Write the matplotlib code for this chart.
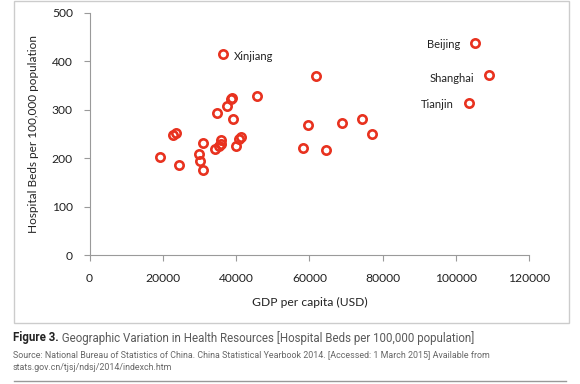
import matplotlib
matplotlib.use("Agg")
import matplotlib.pyplot as plt
from matplotlib.patches import Rectangle
from matplotlib.lines import Line2D

# GDP per capita (USD) and hospital beds per 100,000 population, by province
gdp = [105200, 109100, 103650, 36350,
       61700, 59700, 69000, 74300, 77000, 58200, 64450,
       45800, 39000, 38500, 37450, 34700, 39250,
       22900, 23600, 31050, 35800, 35900, 35400, 34300,
       41350, 40900, 39900, 19150, 29950, 30150, 24350, 30970]
beds = [438, 371, 313, 414,
        369, 268, 272, 280, 250, 220, 216,
        328, 325, 322, 307, 292, 280,
        247, 251, 231, 237, 230, 225, 218,
        244, 239, 225, 203, 209, 194, 185, 175]

labels = {0: "Beijing", 1: "Shanghai", 2: "Tianjin", 3: "Xinjiang"}
label_offsets = {0: (-11, -1), 1: (-11, -2.5), 2: (-11, -1), 3: (8, -1.5)}

x_ticks = [0, 20000, 40000, 60000, 80000, 100000, 120000]
y_ticks = [0, 100, 200, 300, 400, 500]

caption_bold = "Figure 3."
caption_rest = " Geographic Variation in Health Resources [Hospital Beds per 100,000 population]"
source_text = ("Source: National Bureau of Statistics of China. China Statistical Yearbook 2014. "
               "[Accessed: 1 March 2015] Available from\nstats.gov.cn/tjsj/ndsj/2014/indexch.htm")

W, H = 580, 384
fig = plt.figure(figsize=(W / 100, H / 100), dpi=100)
ax = fig.add_axes([89.5 / W, 1 - 255 / H, (529.3 - 89.5) / W, (255 - 12.7) / H])

red = "#e8321f"
ax.plot(gdp, beds, linestyle="none", marker="o", markersize=6.0, markerfacecolor="none",
        markeredgecolor=red, markeredgewidth=1.9, zorder=3)

for i, name in labels.items():
    dx, dy = label_offsets[i]
    ax.annotate(name, (gdp[i], beds[i]), xytext=(dx, dy), textcoords="offset points",
                ha="left" if dx > 0 else "right", va="center",
                fontsize=8, family="Lato", color="#222222")

ax.set_xlim(0, 120000)
ax.set_ylim(0, 500)
ax.set_xticks(x_ticks)
ax.set_yticks(y_ticks)
ax.tick_params(axis="both", direction="out", length=4, width=0.8, color="#9a9a9a",
               labelsize=8.7, labelcolor="#222222")
ax.tick_params(axis="x", pad=9)
ax.tick_params(axis="y", pad=8)
for lab in ax.get_xticklabels() + ax.get_yticklabels():
    lab.set_family("Lato")
for s in ["top", "right"]:
    ax.spines[s].set_visible(False)
for s in ["left", "bottom"]:
    ax.spines[s].set_color("#9a9a9a")
    ax.spines[s].set_linewidth(0.8)

ax.set_xlabel("GDP per capita (USD)", fontsize=8.7, family="Lato", color="#222222", labelpad=9)
ax.set_ylabel("Hospital Beds per 100,000 population", fontsize=8.5, family="Lato",
              color="#222222", labelpad=9)

# chart frame and bottom rule
fig.patches.append(Rectangle((13.5 / W, 1 - 323 / H), (569 - 13.5) / W, (323 - 1) / H,
                             transform=fig.transFigure, fill=False, edgecolor="#cccccc", lw=1))
fig.lines.append(Line2D([14 / W, 566 / W], [1 - 381 / H] * 2, transform=fig.transFigure,
                        color="#999999", lw=1))

t1 = fig.text(13 / W, 1 - 338 / H, caption_bold, fontsize=8.3, family="Roboto",
              weight="bold", color="#222222", va="center")
fig.canvas.draw()
bb = t1.get_window_extent()
fig.text(bb.x1 / W, 1 - 338 / H, caption_rest, fontsize=8.3, family="Roboto",
         color="#5a5a5a", va="center")
fig.text(13 / W, 1 - 361 / H, source_text, fontsize=6.4, family="Roboto",
         color="#666666", va="center", linespacing=1.55)

fig.savefig("out.png", dpi=100)
